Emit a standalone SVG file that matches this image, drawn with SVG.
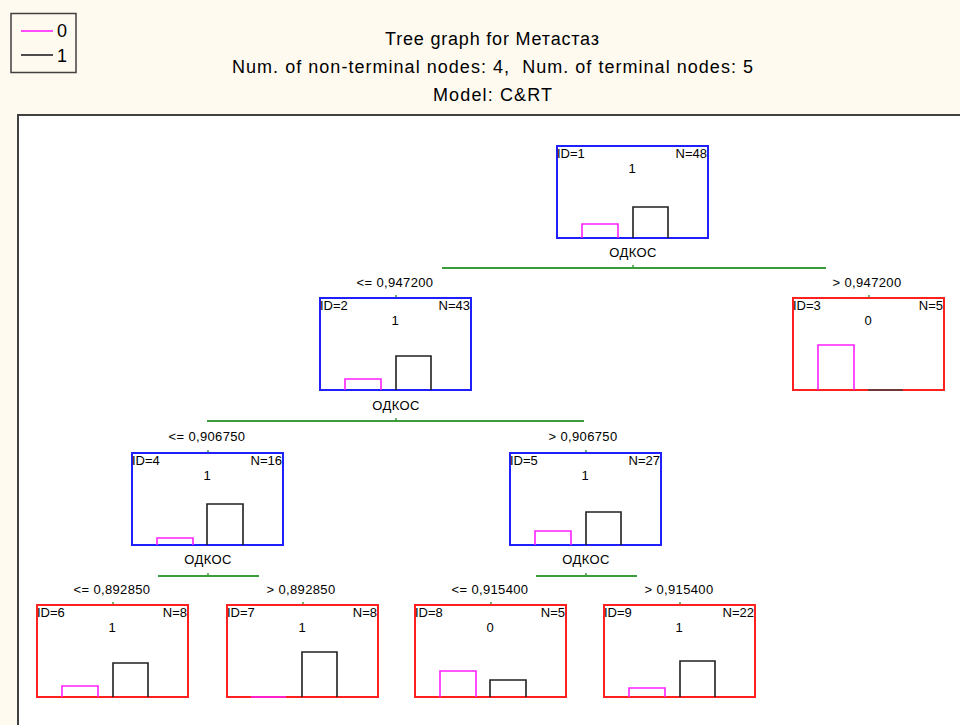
<svg xmlns="http://www.w3.org/2000/svg" width="960" height="725" viewBox="0 0 960 725">
<defs>
<style>
text{font-family:"Liberation Sans",Arial,sans-serif;fill:#000}
.title{font-size:18px;text-anchor:middle}
.lg{font-size:18px}
.n{font-size:13px}
.cond{letter-spacing:0.35px}
.mid{text-anchor:middle}
.end{text-anchor:end}
.nt{fill:#fff;stroke:#2020ff;stroke-width:2}
.tm{fill:#fff;stroke:#ff2020;stroke-width:2}
.b0{fill:none;stroke:#ff20ff;stroke-width:1.6}
.b1{fill:none;stroke:#202020;stroke-width:1.6}
.br{stroke:#3c9c3c;stroke-width:2;fill:none}
.tk{stroke:#3c9c3c;stroke-width:1.5}
</style>
</defs>
<rect x="0" y="0" width="960" height="725" fill="#fffaf0"/>
<rect x="18" y="115" width="960" height="700" fill="#fff" stroke="#404040" stroke-width="2"/>
<g id="legend">
<rect x="11" y="13.5" width="65" height="59" fill="none" stroke="#404040" stroke-width="1.5"/>
<line x1="21" y1="31" x2="53" y2="31" stroke="#ff20ff" stroke-width="1.6"/>
<text class="lg" x="57" y="37">0</text>
<line x1="21" y1="55" x2="53" y2="55" stroke="#202020" stroke-width="1.6"/>
<text class="lg" x="57" y="62">1</text>
</g>
<g id="title">
<text class="title" x="492" y="45" textLength="214" lengthAdjust="spacing">Tree graph for Метастаз</text>
<text class="title" x="492.5" y="73" textLength="521" lengthAdjust="spacing" xml:space="preserve">Num. of non-terminal nodes: 4,  Num. of terminal nodes: 5</text>
<text class="title" x="492.5" y="101" textLength="119" lengthAdjust="spacing">Model: C&amp;RT</text>
</g>
<g id="connectors">
<line class="br" x1="442" y1="268" x2="826" y2="268"/>
<line class="tk" x1="633" y1="265" x2="633" y2="267"/>
<line class="br" x1="207" y1="421" x2="584" y2="421"/>
<line class="tk" x1="396" y1="418" x2="396" y2="420"/>
<line class="br" x1="158" y1="576" x2="259" y2="576"/>
<line class="tk" x1="208" y1="573" x2="208" y2="575"/>
<line class="br" x1="536" y1="576" x2="637" y2="576"/>
<line class="tk" x1="586" y1="573" x2="586" y2="575"/>
<line class="tk" x1="396" y1="295" x2="396" y2="297"/>
<line class="tk" x1="869" y1="295" x2="869" y2="297"/>
<line class="tk" x1="208" y1="450" x2="208" y2="452"/>
<line class="tk" x1="586" y1="450" x2="586" y2="452"/>
<line class="tk" x1="113" y1="602" x2="113" y2="604"/>
<line class="tk" x1="303" y1="602" x2="303" y2="604"/>
<line class="tk" x1="491" y1="602" x2="491" y2="604"/>
<line class="tk" x1="680" y1="602" x2="680" y2="604"/>
<text class="n mid cond" x="395" y="287">&lt;= 0,947200</text>
<text class="n mid cond" x="867" y="287">&gt; 0,947200</text>
<text class="n mid cond" x="207" y="441">&lt;= 0,906750</text>
<text class="n mid cond" x="583" y="441">&gt; 0,906750</text>
<text class="n mid cond" x="112" y="594">&lt;= 0,892850</text>
<text class="n mid cond" x="301" y="594">&gt; 0,892850</text>
<text class="n mid cond" x="490" y="594">&lt;= 0,915400</text>
<text class="n mid cond" x="679" y="594">&gt; 0,915400</text>
</g>
<g id="node1">
<rect class="nt" x="557" y="146" width="151" height="92"/>
<text class="n" x="557" y="158">ID=1</text>
<text class="n end" x="707" y="158">N=48</text>
<text class="n mid" x="632" y="173">1</text>
<polyline class="b0" points="582,238 582,224 618,224 618,238"/>
<polyline class="b1" points="633,238 633,207 668,207 668,238"/>
<text class="n mid cond" x="633" y="257">ОДКОС</text>
</g>
<g id="node2">
<rect class="nt" x="320" y="298" width="151" height="92"/>
<text class="n" x="320" y="310">ID=2</text>
<text class="n end" x="470" y="310">N=43</text>
<text class="n mid" x="395" y="325">1</text>
<polyline class="b0" points="345,390 345,379 381,379 381,390"/>
<polyline class="b1" points="396,390 396,356 431,356 431,390"/>
<text class="n mid cond" x="396" y="410">ОДКОС</text>
</g>
<g id="node3">
<rect class="tm" x="793" y="298" width="151" height="92"/>
<text class="n" x="793" y="310">ID=3</text>
<text class="n end" x="943" y="310">N=5</text>
<text class="n mid" x="868" y="325">0</text>
<polyline class="b0" points="818,390 818,345 854,345 854,390"/>
<line x1="868" y1="390" x2="903" y2="390" stroke="#404040" stroke-width="1.6"/>
</g>
<g id="node4">
<rect class="nt" x="132" y="453" width="151" height="92"/>
<text class="n" x="132" y="465">ID=4</text>
<text class="n end" x="282" y="465">N=16</text>
<text class="n mid" x="207" y="480">1</text>
<polyline class="b0" points="157,545 157,538 193,538 193,545"/>
<polyline class="b1" points="207,545 207,504 243,504 243,545"/>
<text class="n mid cond" x="208" y="564">ОДКОС</text>
</g>
<g id="node5">
<rect class="nt" x="510" y="453" width="151" height="92"/>
<text class="n" x="510" y="465">ID=5</text>
<text class="n end" x="660" y="465">N=27</text>
<text class="n mid" x="585" y="480">1</text>
<polyline class="b0" points="535,545 535,531 571,531 571,545"/>
<polyline class="b1" points="586,545 586,512 621,512 621,545"/>
<text class="n mid cond" x="586" y="564">ОДКОС</text>
</g>
<g id="node6">
<rect class="tm" x="37" y="605" width="151" height="92"/>
<text class="n" x="37" y="617">ID=6</text>
<text class="n end" x="187" y="617">N=8</text>
<text class="n mid" x="112" y="632">1</text>
<polyline class="b0" points="62,697 62,686 98,686 98,697"/>
<polyline class="b1" points="113,697 113,663 148,663 148,697"/>
</g>
<g id="node7">
<rect class="tm" x="227" y="605" width="151" height="92"/>
<text class="n" x="227" y="617">ID=7</text>
<text class="n end" x="377" y="617">N=8</text>
<text class="n mid" x="302" y="632">1</text>
<line x1="251" y1="697" x2="286" y2="697" stroke="#ff20ff" stroke-width="1.6"/>
<polyline class="b1" points="302,697 302,652 337,652 337,697"/>
</g>
<g id="node8">
<rect class="tm" x="415" y="605" width="151" height="92"/>
<text class="n" x="415" y="617">ID=8</text>
<text class="n end" x="565" y="617">N=5</text>
<text class="n mid" x="490" y="632">0</text>
<polyline class="b0" points="440,697 440,671 476,671 476,697"/>
<polyline class="b1" points="490,697 490,680 526,680 526,697"/>
</g>
<g id="node9">
<rect class="tm" x="604" y="605" width="151" height="92"/>
<text class="n" x="604" y="617">ID=9</text>
<text class="n end" x="754" y="617">N=22</text>
<text class="n mid" x="679" y="632">1</text>
<polyline class="b0" points="629,697 629,688 665,688 665,697"/>
<polyline class="b1" points="680,697 680,661 715,661 715,697"/>
</g>
</svg>
